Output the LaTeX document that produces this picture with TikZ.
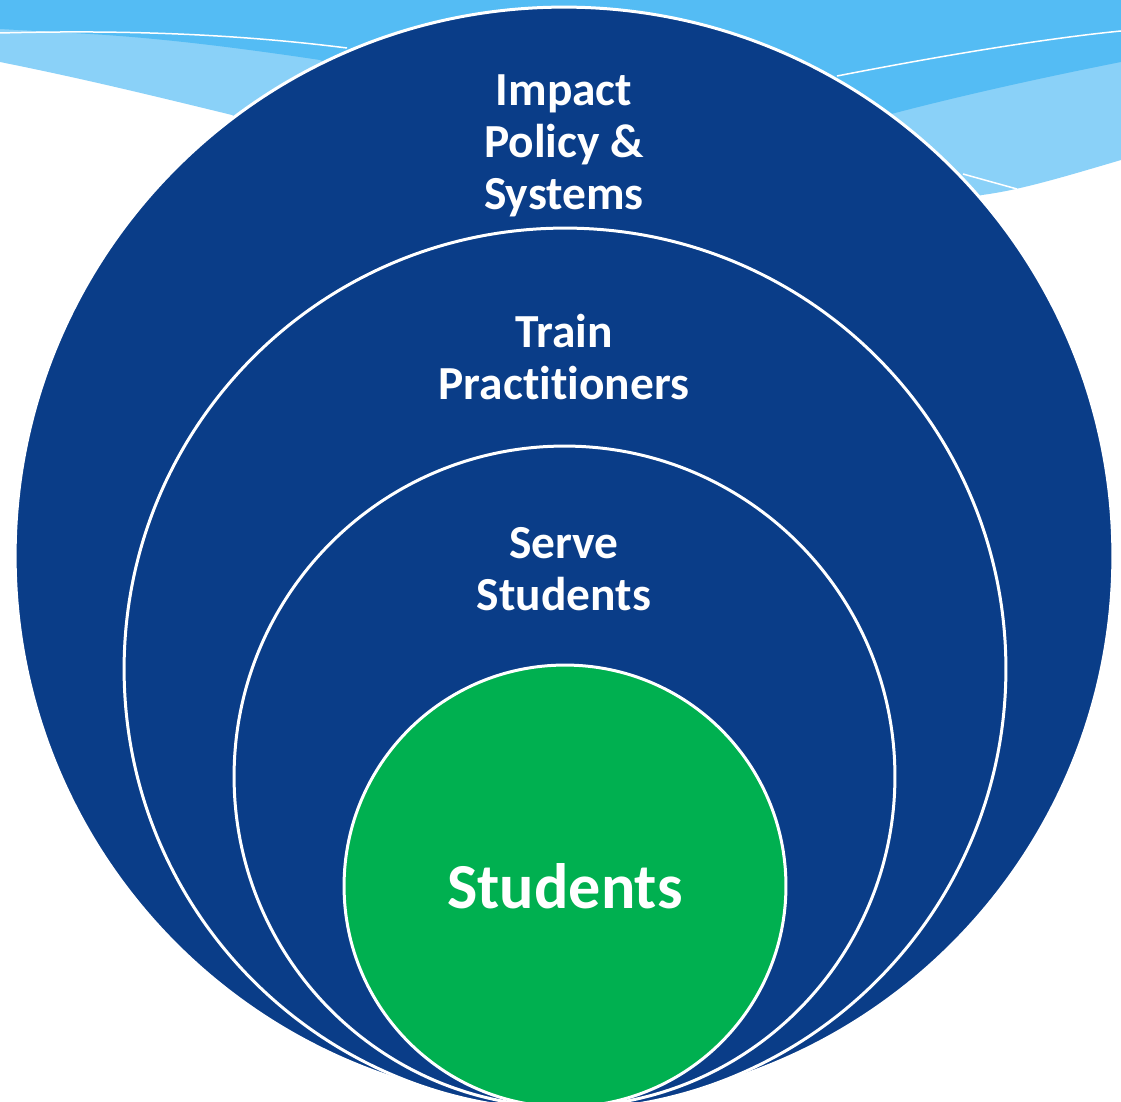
\documentclass[tikz,border=0pt]{standalone}
\usepackage{fontspec}
\setmainfont{Carlito}[Ligatures=NoCommon]
\usepackage{tikz}
\usepackage{xcolor}
\definecolor{navy}{RGB}{10,61,136}
\definecolor{leaf}{RGB}{0,176,80}
\definecolor{sky}{RGB}{84,188,244}
\definecolor{mist}{RGB}{138,209,248}

\begin{document}
\begin{tikzpicture}[x=0.02cm,y=-0.02cm,
        ring/.style={draw=white, line width=0.06cm, circle, fill=navy, inner sep=0pt},
        word/.style={text=white, font=\bfseries\fontsize{27}{29.6}\selectfont, align=center, inner sep=0pt}]
            \useasboundingbox (0,0) rectangle (1121,1101);

            \fill[mist] (0,0) -- (1121,0) -- (1121,160) .. controls (1060,178) and (1020,190) .. (982,195) -- (565,300) -- (232,115) .. controls (150,95) and (80,78) .. (0,62) -- cycle;
            \fill[sky] (0,0) -- (1121,0) -- (1121,62) .. controls (1040,78) and (960,96) .. (895,113) -- (565,200) -- (320,60) .. controls (240,48) and (160,38) .. (90,34) -- (0,29) -- cycle;
            \draw[white, line width=0.03cm] (0,33) .. controls (150,29) and (260,37) .. (347,48);
            \draw[white, line width=0.03cm] (837,76) .. controls (950,54) and (1050,38) .. (1121,31);
            \draw[white, line width=0.03cm] (963,174) -- (1017,189);

            \node[ring, minimum size=21.96cm] (outer) at (564,556) {};
            \node[ring, minimum size=17.64cm] (middle) at (565,669) {};
            \node[ring, minimum size=13.22cm] (inner) at (564.5,776.5) {};
            \node[ring, fill=leaf, minimum size=8.84cm] (core) at (565,886) {};

            \node[word] (impact) at (564,146) {Impact\\Policy \&\\Systems};
            \node[word] (train) at (564,357) {Train\\Practitioners};
            \node[word] (serve) at (564,569) {Serve\\Students};
            \node[word, font=\bfseries\fontsize{36.5}{40}\selectfont] (students) at (core) {Students};
        \end{tikzpicture}
\end{document}
